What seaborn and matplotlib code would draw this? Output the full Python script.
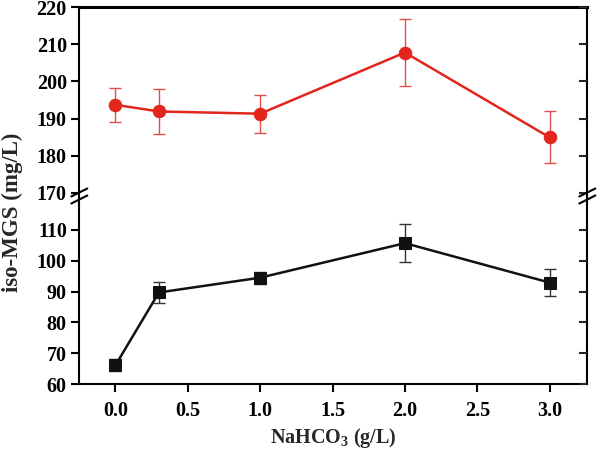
import numpy as np
import pandas as pd
import matplotlib
matplotlib.use("Agg")
import matplotlib.pyplot as plt
import seaborn as sns

# ---- data ----
nahco3 = [0.0, 0.3, 1.0, 2.0, 3.0]
red_vals = [193.7, 191.9, 191.3, 207.8, 184.9]
red_err = [4.6, 6.1, 5.1, 9.1, 7.0]
black_vals = [66.1, 89.7, 94.5, 105.7, 92.9]
black_err = [2.0, 3.5, 2.0, 6.2, 4.5]
top_ticks = [170, 180, 190, 200, 210, 220]
bottom_ticks = [60, 70, 80, 90, 100, 110]
x_ticks = [0.0, 0.5, 1.0, 1.5, 2.0, 2.5, 3.0]

sns.set_style("ticks")
plt.rcParams['font.family'] = ['Liberation Serif', 'DejaVu Serif']
plt.rcParams['font.weight'] = 'bold'
plt.rcParams['axes.labelweight'] = 'bold'
plt.rcParams['mathtext.fontset'] = 'custom'
plt.rcParams['mathtext.rm'] = 'Liberation Serif:bold'
plt.rcParams['mathtext.bf'] = 'Liberation Serif:bold'
plt.rcParams['mathtext.it'] = 'Liberation Serif:bold:italic'

RED = '#e2261e'
BLACK = '#111111'
TS = 14.5

fig = plt.figure(figsize=(6.01, 4.51), dpi=100)
L, R = 79.3 / 601, 587.3 / 601
Ytop, Ymid, Ybot = 1 - 7.3 / 451, 1 - 196 / 451, 1 - 384 / 451
ax_t = fig.add_axes([L, Ymid, R - L, Ytop - Ymid])
ax_b = fig.add_axes([L, Ybot, R - L, Ymid - Ybot], sharex=ax_t)

df_red = pd.DataFrame({'x': nahco3, 'y': red_vals})
df_blk = pd.DataFrame({'x': nahco3, 'y': black_vals})

ax_t.errorbar(nahco3, red_vals, yerr=red_err, fmt='none', ecolor='#e0504a',
              elinewidth=1.0, capsize=4, capthick=1.0, zorder=2)
sns.lineplot(data=df_red, x='x', y='y', ax=ax_t, color=RED, marker='o',
             markersize=9, markeredgecolor=RED, linewidth=1.8, zorder=3)

ax_b.errorbar(nahco3, black_vals, yerr=black_err, fmt='none', ecolor='#333333',
              elinewidth=1.0, capsize=4, capthick=1.0, zorder=2)
sns.lineplot(data=df_blk, x='x', y='y', ax=ax_b, color=BLACK, marker='s',
             markersize=8, markeredgecolor=BLACK, linewidth=1.8, zorder=3)

ax_t.set_ylim(169.1, 220)
ax_b.set_ylim(60, 121)
ax_b.set_xlim(-0.25, 3.26)

for ax in (ax_t, ax_b):
    for s in ax.spines.values():
        s.set_linewidth(1.5)
        s.set_color('black')
    ax.tick_params(axis='both', direction='out', length=6, width=1.5,
                   labelsize=TS, colors='black')
    ax.set_ylabel('')
    ax.set_xlabel('')
    ax.patch.set_alpha(0)

ax_t.spines['bottom'].set_visible(False)
ax_b.spines['top'].set_visible(False)
ax_t.spines['top'].set_linewidth(2.2)
ax_t.tick_params(axis='x', bottom=False, labelbottom=False)

ax_t.set_yticks(top_ticks)
ax_t.set_yticklabels([str(t) for t in top_ticks], fontweight='bold', fontsize=TS)
ax_b.set_yticks(bottom_ticks)
ax_b.set_yticklabels([str(t) for t in bottom_ticks], fontweight='bold', fontsize=TS)
ax_b.set_xticks(x_ticks)
ax_b.set_xticklabels([f"{t:.1f}" for t in x_ticks], fontweight='bold', fontsize=TS)
ax_b.tick_params(axis='x', pad=6)
ax_t.tick_params(axis='y', pad=3)
ax_b.tick_params(axis='y', pad=3)

# right-side inward ticks
for ax, ticks in ((ax_t, top_ticks), (ax_b, bottom_ticks)):
    tw = ax.twinx()
    tw.set_ylim(ax.get_ylim())
    tw.set_yticks(ticks)
    tw.tick_params(axis='y', direction='in', length=6, width=1.5, labelright=False)
    for s in tw.spines.values():
        s.set_visible(False)

# break marks
for xf in (0.0, 1.0):
    x0 = L + xf * (R - L)
    for dy in (-3.5, 3.5):
        yc = Ymid + dy / 451
        fig.add_artist(plt.Line2D([x0 - 8 / 601, x0 + 8 / 601], [yc - 4 / 451, yc + 4 / 451],
                                  color='black', lw=1.5, transform=fig.transFigure))

fig.text((L + R) / 2, 1 - 438 / 451, r'$\mathbf{NaHCO_3}$ (g/L)', ha='center', va='center',
         fontsize=TS, fontweight='bold')
fig.text(12 / 601, 1 - 212 / 451, 'iso-MGS (mg/L)', rotation=90, ha='center', va='center',
         fontsize=16.5, fontweight='bold')

fig.savefig('out.png', dpi=100)
